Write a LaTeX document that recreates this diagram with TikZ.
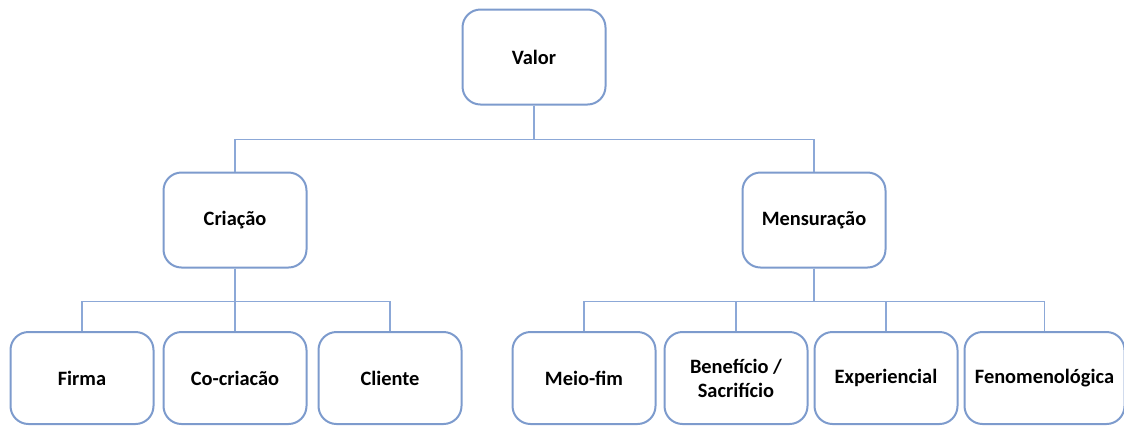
\documentclass[tikz,border=0pt]{standalone}
\usepackage{fontspec}
\setmainfont{Carlito}
\usepackage{tikz}
\usetikzlibrary{positioning,calc}
\definecolor{boxblue}{RGB}{125,155,205}
\definecolor{lineblue}{RGB}{140,168,215}
\tikzstyle{level}=[rectangle, rounded corners=9pt, line width=1pt, draw=boxblue, fill=white, minimum width=71.5pt, minimum height=47.5pt, align=center, font=\bfseries\fontsize{10.2}{12}\selectfont]
\tikzstyle{leaf}=[level, minimum height=46pt]
\tikzstyle{connect}=[line width=0.8pt, draw=lineblue]

\begin{document}
\begin{tikzpicture}
  \useasboundingbox (0,0) rectangle (562pt,-212.5pt);
  \node[level] (valor) at (267pt,-28.5pt) {Valor};
  \node[level] (criacao) [below=33pt of valor,xshift=-149.5pt] {Criação};
  \node[level] (mensuracao) [below=33pt of valor,xshift=140pt] {Mensuração};

  \node[leaf] (firma) at (41pt,-189pt) {Firma};
  \node[leaf] (cocriacao) [right=4pt of firma] {Co-criacão};
  \node[leaf] (cliente) [right=5pt of cocriacao] {Cliente};

  \node[leaf] (meiofim) at (292pt,-189pt) {Meio-fim};
  \node[leaf] (beneficio) [right=3.5pt of meiofim] {Benefício /\\ Sacrifício};
  \node[leaf] (experiencial) [right=2.5pt of beneficio] {Experiencial};
  \node[leaf, minimum width=80pt] (fenomeno) [right=2.5pt of experiencial] {Fenomenológica};

  \foreach \kid in {criacao,mensuracao}
    \draw[connect] (valor.south) -- ++(0,-17pt) -| (\kid.north);
  \foreach \kid in {firma,cocriacao,cliente}
    \draw[connect] (criacao.south) -- ++(0,-16.5pt) -| (\kid.north);
  \foreach \kid in {meiofim,beneficio,experiencial,fenomeno}
    \draw[connect] (mensuracao.south) -- ++(0,-16.5pt) -| (\kid.north);
\end{tikzpicture}
\end{document}
